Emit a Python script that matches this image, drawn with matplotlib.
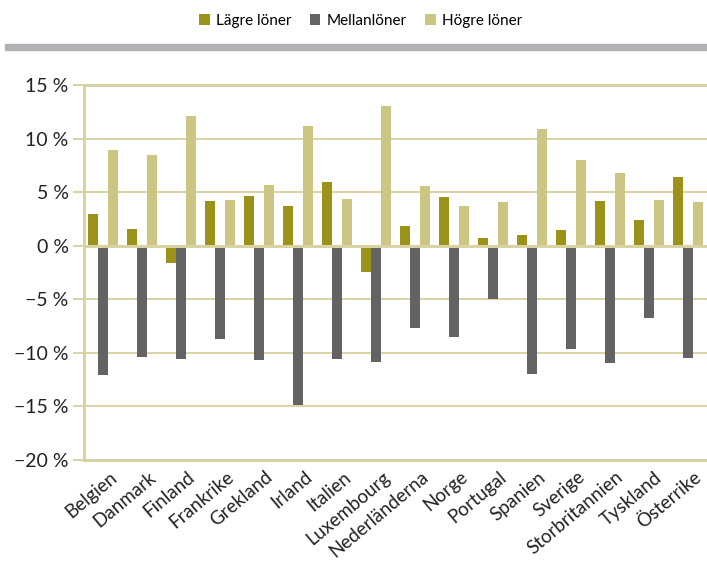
import numpy as np
import matplotlib.pyplot as plt
from matplotlib.patches import Rectangle

plt.rcParams['font.family'] = ['Lato', 'DejaVu Sans']

countries = ["Belgien", "Danmark", "Finland", "Frankrike", "Grekland", "Irland",
             "Italien", "Luxembourg", "Nederländerna", "Norge", "Portugal",
             "Spanien", "Sverige", "Storbritannien", "Tyskland", "Österrike"]
lagre = [3.0, 1.6, -1.6, 4.2, 4.7, 3.7, 6.0, -2.4, 1.9, 4.6, 0.7, 1.0, 1.5, 4.2, 2.4, 6.4]
mellan = [-12.1, -10.4, -10.6, -8.7, -10.7, -14.9, -10.6, -10.8, -7.7, -8.5, -5.0,
          -12.0, -9.6, -10.9, -6.7, -10.5]
hogre = [9.0, 8.5, 12.1, 4.3, 5.7, 11.2, 4.4, 13.1, 5.6, 3.7, 4.1, 10.9, 8.0, 6.8, 4.3, 4.1]
series = ["Lägre löner", "Mellanlöner", "Högre löner"]
colors = ["#9b9219", "#636363", "#ccc685"]
grid_c = "#d9d3a4"

fig = plt.figure(figsize=(7.07, 5.63), dpi=100)
ax = fig.add_axes([84 / 707, 103 / 563, 1 - 84 / 707, (460 - 85.3) / 563])

x = np.arange(len(countries))
w = 0.257
for i, (vals, c, lab) in enumerate(zip([lagre, mellan, hogre], colors, series)):
    ax.bar(x + (i - 1) * w, vals, width=w, color=c, label=lab, zorder=2)

ax.set_xlim(-0.5, len(countries) - 0.5)
ax.set_ylim(-20, 15)
yt = [-20, -15, -10, -5, 0, 5, 10, 15]
ax.set_yticks(yt)
ax.set_yticklabels([f"{v} %".replace("-", "\u2212") for v in yt], fontsize=14, color="#222222")
for v in yt:
    lw = 2.2 if v in (0, -20, 15) else 1.4
    ax.axhline(v, color=grid_c, lw=lw, zorder=3 if v == 0 else 1, clip_on=False)
ax.tick_params(axis='y', length=8, width=1.4, color=grid_c, pad=3)
ax.tick_params(axis='x', length=0, pad=6)
ax.set_xticks(x + 0.15)
ax.set_xticklabels(countries, rotation=40, ha='right', va='top',
                   rotation_mode='anchor', fontsize=13.5, color="#222222")
for s in ['top', 'right', 'bottom']:
    ax.spines[s].set_visible(False)
ax.spines['left'].set_color(grid_c)
ax.spines['left'].set_linewidth(2.2)
ax.spines['left'].set_zorder(4)

fig.legend(loc='upper center', bbox_to_anchor=(0.51, 1.0), ncol=3, frameon=False,
           fontsize=11, handlelength=0.7, handleheight=0.7, handletextpad=0.4,
           columnspacing=1.2)
fig.patches.append(Rectangle((5 / 707, 1 - 50 / 563), 1, 6 / 563, transform=fig.transFigure,
                             color="#b1b1b5", zorder=0))

fig.savefig("out.png", dpi=100)
